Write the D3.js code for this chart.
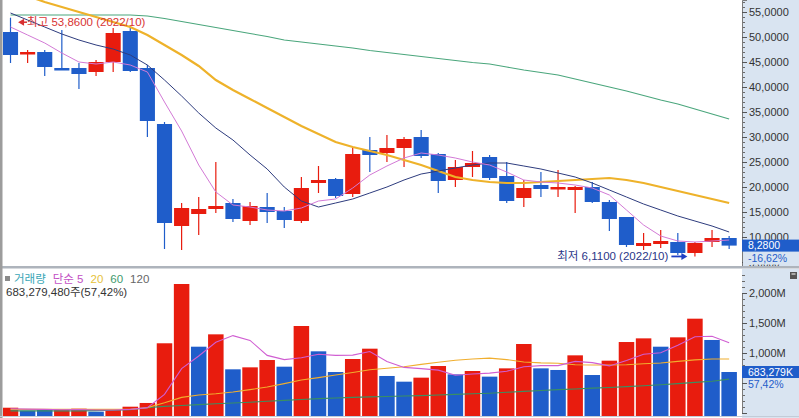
<!DOCTYPE html>
<html><head><meta charset="utf-8">
<script src="https://cdn.jsdelivr.net/npm/d3@7"></script>
<style>
html,body{margin:0;padding:0;background:#fff;}
svg{display:block;}
text{font-family:"Liberation Sans","Noto Sans CJK KR",sans-serif;}
</style></head><body>
<svg id="c" width="799" height="418"></svg>
<script>
// ---------- DATA ----------
const categories = Array.from({length:43},(_,i)=>String(i+1));
const opens  = [51.0,46.6,47.0,43.8,43.8,43.0,45.0,51.2,43.8,32.6,12.2,14.6,15.6,16.8,13.2,16.0,15.2,13.2,20.8,21.6,18.6,27.4,26.8,27.8,30.0,26.6,21.4,24.0,26.0,22.2,17.8,20.4,19.6,19.4,20.0,17.0,14.0,8.2,8.6,9.0,6.8,9.0,9.8];
const highs  = [53.86,47.4,47.4,51.4,44.8,45.4,51.8,52.0,44.4,33.0,16.8,18.0,25.0,17.6,17.0,18.8,16.0,22.0,24.2,21.8,28.0,30.0,30.4,30.0,31.4,26.8,25.4,27.2,26.4,25.0,21.4,23.0,23.4,20.2,21.0,17.4,14.0,10.8,11.4,10.8,9.0,11.4,10.2];
const lows   = [44.8,44.8,42.2,43.4,39.6,42.2,43.0,43.0,30.0,7.6,7.4,10.4,14.8,13.0,12.4,12.8,11.8,12.8,18.8,17.8,18.0,23.0,25.0,24.0,25.8,18.8,20.0,22.0,21.4,16.8,16.0,18.0,18.0,14.8,16.8,11.2,8.0,7.4,7.8,6.4,6.11,8.0,7.6];
const closes = [46.4,47.0,44.0,43.6,42.6,45.0,50.8,43.2,33.2,12.8,15.8,15.6,16.2,13.6,16.2,15.0,13.4,19.8,21.4,18.2,26.6,26.4,27.8,29.6,26.2,21.2,24.0,24.8,21.8,17.2,19.8,19.6,20.0,20.0,17.0,13.6,8.4,8.8,9.2,6.8,8.8,9.8,8.28];
const ma5  = [52.0,50.4,48.8,46.8,45.0,44.6,45.0,44.4,43.0,37.0,31.2,24.4,19.0,16.4,16.0,15.4,15.2,15.8,17.2,17.6,19.8,22.4,24.2,25.8,26.8,26.4,25.8,25.0,24.4,23.0,21.4,21.0,20.8,20.4,19.8,18.4,15.4,12.4,10.2,9.2,9.0,9.2,9.4];
const ma10 = [54.8,53.4,52.0,50.6,49.4,48.4,47.6,46.4,44.4,41.4,38.2,34.8,31.8,29.4,26.4,23.6,20.0,17.2,16.0,16.8,17.6,18.8,20.0,21.4,22.6,23.2,23.8,24.4,24.8,24.8,24.2,23.6,22.8,22.0,20.8,19.4,18.0,16.6,15.4,14.2,13.2,12.2,11.0];
const ma20 = [59.4,58.2,57.0,56.0,55.0,54.0,53.0,52.0,50.4,48.4,46.4,44.2,41.4,39.4,37.6,35.8,34.0,32.2,30.6,29.0,28.0,27.2,26.4,25.4,24.4,23.2,22.0,21.4,21.0,20.8,20.8,21.0,21.2,21.4,21.6,21.8,21.4,20.8,20.0,19.2,18.4,17.6,16.8];
const ma60 = [54.4,54.4,54.4,54.4,54.4,54.4,54.4,54.4,54.2,53.7,53.1,52.5,51.9,51.3,50.7,50.1,49.4,49.0,48.6,48.2,47.8,47.3,46.9,46.5,46.1,45.7,45.3,44.9,44.6,44.0,43.4,42.9,42.4,41.6,40.8,40.0,39.2,38.3,37.4,36.6,35.6,34.6,33.6];
const volumes = [88,38,50,50,72,22,50,105,167,1162,2150,1105,1311,728,761,883,772,1450,1028,683,900,1072,617,522,589,783,644,700,606,744,1150,744,717,961,633,872,1183,1244,1105,1261,1572,1217,683.279];
const volDir = ["U","D","D","U","U","D","U","U","U","U","U","D","U","D","U","U","D","U","D","D","U","U","D","D","U","U","D","U","D","U","U","D","D","U","D","U","U","U","D","U","U","D","D"];
const vma5  = [70,65,60,55,58,50,50,60,90,310,740,950,1180,1290,1210,960,890,920,980,960,965,1025,860,760,740,715,630,650,665,695,770,790,790,860,840,785,875,980,1005,1130,1270,1280,1170];
const vma20 = [60,60,60,60,60,60,60,60,90,170,260,300,320,350,390,433,490,550,590,633,675,720,745,770,810,845,880,900,915,890,850,835,830,805,800,800,805,820,833,860,885,900,900];
const vma60 = [35,35,35,35,35,40,45,55,90,110,125,140,155,167,180,195,210,225,240,250,260,268,275,283,290,300,310,320,330,345,360,375,390,400,415,425,440,455,470,490,510,530,565];
const priceTicks = [5,10,15,20,25,30,35,40,45,50,55];
const volTicks = [1000,1500,2000];
const lastPriceLabel = "8,2800", lastChangeLabel = "-16,62%";
const lastVolLabel = "683,279K", lastVolPct = "57,42%";
const highLabel = "최고 53,8600 (2022/10)", lowLabel = "최저 6,1100 (2022/10)";
const legendItems = [["거래량","#3aa6b6"],["단순 5","#c24fc4"],["20","#e6c23a"],["60","#3f9a6e"],["120","#666666"]];
const volInfo = "683,279,480주(57,42%)";

// ---------- LAYOUT ----------
const svg = d3.select("#c");
const plotL = 3, plotR = 742, priceBot = 266, volTop = 269, volBot = 418;
const RED = "#e81c0e", BLUE = "#1f5dca", AXBG = "#d9e4f1";

svg.append("rect").attr("width",799).attr("height",418).attr("fill","#fff");

const x = d3.scaleBand().domain(categories).range([1.95, 737.7]).padding(0);
const bw = x.bandwidth();
const cx = i => x(categories[i]) + bw/2;
const yP = d3.scaleLinear().domain([4.2, 57.4]).range([priceBot, 0]);
const yV = d3.scaleLinear().domain([0, 2000]).range([413, 293]);

const defs = svg.append("defs");
defs.append("clipPath").attr("id","cp").append("rect").attr("x",plotL).attr("y",0).attr("width",plotR-plotL).attr("height",priceBot);
defs.append("clipPath").attr("id","cv").append("rect").attr("x",plotL).attr("y",volTop).attr("width",plotR-plotL).attr("height",volBot-volTop);
defs.append("clipPath").attr("id","ca").append("rect").attr("x",plotR).attr("y",0).attr("width",57).attr("height",priceBot);
defs.append("clipPath").attr("id","cav").append("rect").attr("x",plotR).attr("y",volTop).attr("width",57).attr("height",volBot-volTop);

// axis panels
svg.append("rect").attr("x",plotR).attr("y",0).attr("width",57).attr("height",priceBot).attr("fill",AXBG);
svg.append("rect").attr("x",plotR).attr("y",volTop).attr("width",57).attr("height",volBot-volTop).attr("fill",AXBG);

// ---------- PRICE PANEL ----------
const gp = svg.append("g").attr("clip-path","url(#cp)");
const idx = d3.range(categories.length);
gp.selectAll("line.wick").data(idx).join("line")
  .attr("x1",i=>cx(i)).attr("x2",i=>cx(i))
  .attr("y1",i=>yP(highs[i])).attr("y2",i=>yP(lows[i]))
  .attr("stroke",i=>closes[i]>=opens[i]?RED:BLUE).attr("stroke-width",1.2);
gp.selectAll("rect.body").data(idx).join("rect")
  .attr("x",i=>x(categories[i])+1).attr("width",bw-2)
  .attr("y",i=>yP(Math.max(opens[i],closes[i])))
  .attr("height",i=>Math.max(2.5, Math.abs(yP(opens[i])-yP(closes[i]))))
  .attr("fill",i=>closes[i]>=opens[i]?RED:BLUE);

const pline = d3.line().x((d,i)=>cx(i)).y(d=>yP(d));
[[ma60,"#4aa67c",1.1],[ma20,"#eeb22a",2.2],[ma10,"#2e3c7e",1],[ma5,"#d37ad6",1]].forEach(([arr,col,w])=>{
  gp.append("path").datum(arr).attr("d",pline).attr("fill","none").attr("stroke",col).attr("stroke-width",w);
});

// high / low annotations
const hx = x(categories[0]) + bw - 1, hy = yP(highs[0]) + 4.5;
gp.append("path").attr("d",`M${hx},${hy} l6,-3.5 v7 z`).attr("fill","#d83030");
gp.append("line").attr("x1",hx+5).attr("x2",hx+9).attr("y1",hy).attr("y2",hy).attr("stroke","#d83030").attr("stroke-width",1.5);
gp.append("text").attr("x",hx+9).attr("y",hy).attr("dy","0.35em").attr("font-size",11.5).attr("fill","#d83434").text(highLabel);

const lx = x(categories[40]) + 1, ly = yP(lows[40]);
gp.append("line").attr("x1",lx-16).attr("x2",lx-5).attr("y1",ly).attr("y2",ly).attr("stroke","#1f3fc4").attr("stroke-width",1.8);
gp.append("path").attr("d",`M${lx},${ly} l-6,-3.5 v7 z`).attr("fill","#1f3fc4");
gp.append("text").attr("x",lx-19).attr("y",ly).attr("dy","0.35em").attr("text-anchor","end").attr("font-size",11.5).attr("fill","#2a3688").text(lowLabel);

// price axis
const fmtP = v => d3.format(".4f")(v).replace(".", ",");
const minorP = d3.range(4, 58).filter(v => v % 5 !== 0);
const ga = svg.append("g").attr("clip-path","url(#ca)");
ga.append("g").attr("transform",`translate(${plotR},0)`)
  .call(d3.axisRight(yP).tickValues(minorP).tickSize(3).tickFormat(""))
  .call(g=>g.select(".domain").remove())
  .call(g=>g.selectAll("line").attr("stroke","#6a6a6a"));
ga.append("g").attr("transform",`translate(${plotR},0)`)
  .call(d3.axisRight(yP).tickValues(priceTicks).tickSize(5).tickPadding(2).tickFormat(v=>v===5?"":fmtP(v)))
  .call(g=>g.select(".domain").attr("stroke","#7a7a7a"))
  .call(g=>g.selectAll("line").attr("stroke","#555"))
  .call(g=>g.selectAll("text").attr("font-size",11).attr("fill","#333").attr("font-family",null));
// partly hidden 5,0000 label peeking below the change label
ga.append("text").attr("x",plotR+7).attr("y",yP(5)+1.5).attr("dy","0.36em").attr("font-size",10).attr("fill","#333").text(fmtP(5));
const ly2 = yP(closes[42]);
ga.append("rect").attr("x",plotR+1).attr("y",ly2+6).attr("width",56).attr("height",13).attr("fill",AXBG);
ga.append("rect").attr("x",plotR).attr("y",ly2-6).attr("width",57).attr("height",12).attr("fill",BLUE);
ga.append("text").attr("x",plotR+6).attr("y",ly2).attr("dy","0.36em").attr("font-size",10.5).attr("fill","#fff").text(lastPriceLabel);
ga.append("text").attr("x",plotR+6).attr("y",ly2+12.5).attr("dy","0.36em").attr("font-size",10.5).attr("fill",BLUE).text(lastChangeLabel);

// separator + borders
svg.append("rect").attr("x",0).attr("y",priceBot).attr("width",799).attr("height",2.5).attr("fill","#aeb4bc");
svg.append("rect").attr("x",0).attr("y",0).attr("width",2.5).attr("height",418).attr("fill","#9c9c9c");

// ---------- VOLUME PANEL ----------
const gv = svg.append("g").attr("clip-path","url(#cv)");
gv.selectAll("rect.vol").data(idx).join("rect")
  .attr("x",i=>x(categories[i])+0.8).attr("width",bw-1.6)
  .attr("y",i=>yV(volumes[i])).attr("height",i=>416-yV(volumes[i]))
  .attr("fill",i=>volDir[i]==="U"?RED:BLUE);
const vline = d3.line().x((d,i)=>cx(i)).y(d=>yV(d));
[[vma60,"#3a8f62"],[vma20,"#f0ae2e"],[vma5,"#d05ed2"]].forEach(([arr,col])=>{
  gv.append("path").datum(arr).attr("d",vline).attr("fill","none").attr("stroke",col).attr("stroke-width",1.1);
});
svg.append("line").attr("x1",0).attr("x2",799).attr("y1",416.5).attr("y2",416.5).attr("stroke","#c3ccd8");

// legend
let lxp = 14;
svg.append("rect").attr("x",5).attr("y",276).attr("width",5).attr("height",5).attr("fill","#8a8a8a");
const leg = svg.append("g");
legendItems.forEach(([t,c])=>{
  const tx = leg.append("text").attr("x",lxp).attr("y",279).attr("dy","0.35em").attr("font-size",11.5).attr("fill",c).text(t);
  lxp += tx.node().getComputedTextLength() + 7;
});
svg.append("text").attr("x",6).attr("y",292).attr("dy","0.35em").attr("font-size",11.5).attr("fill","#333").text(volInfo);

// volume axis
const gav = svg.append("g").attr("clip-path","url(#cav)");
const minorV = d3.range(100, 2400, 100).filter(v => v % 500 !== 0);
gav.append("g").attr("transform",`translate(${plotR},0)`)
  .call(d3.axisRight(yV).tickValues(minorV).tickSize(3).tickFormat(""))
  .call(g=>g.select(".domain").remove())
  .call(g=>g.selectAll("line").attr("stroke","#6a6a6a"));
gav.append("g").attr("transform",`translate(${plotR},0)`)
  .call(d3.axisRight(yV).tickValues([0,500].concat(volTicks)).tickSize(5).tickPadding(2).tickFormat(v=>volTicks.includes(v)?d3.format(",")(v)+"M":""))
  .call(g=>g.select(".domain").attr("stroke","#7a7a7a"))
  .call(g=>g.selectAll("line").attr("stroke","#555"))
  .call(g=>g.selectAll("text").attr("font-size",11).attr("fill","#333").attr("font-family",null));
const vy = yV(volumes[42]);
gav.append("rect").attr("x",plotR).attr("y",vy-6).attr("width",57).attr("height",12).attr("fill",BLUE);
gav.append("text").attr("x",plotR+6).attr("y",vy).attr("dy","0.36em").attr("font-size",10.5).attr("fill","#fff").text(lastVolLabel);
gav.append("text").attr("x",plotR+6).attr("y",vy+12.5).attr("dy","0.36em").attr("font-size",10.5).attr("fill",BLUE).text(lastVolPct);
svg.append("rect").attr("x",790).attr("y",272).attr("width",7).attr("height",7).attr("fill","#555");
svg.append("line").attr("x1",791.5).attr("x2",795.5).attr("y1",274).attr("y2",274).attr("stroke","#fff").attr("stroke-width",1);
</script>
</body></html>
